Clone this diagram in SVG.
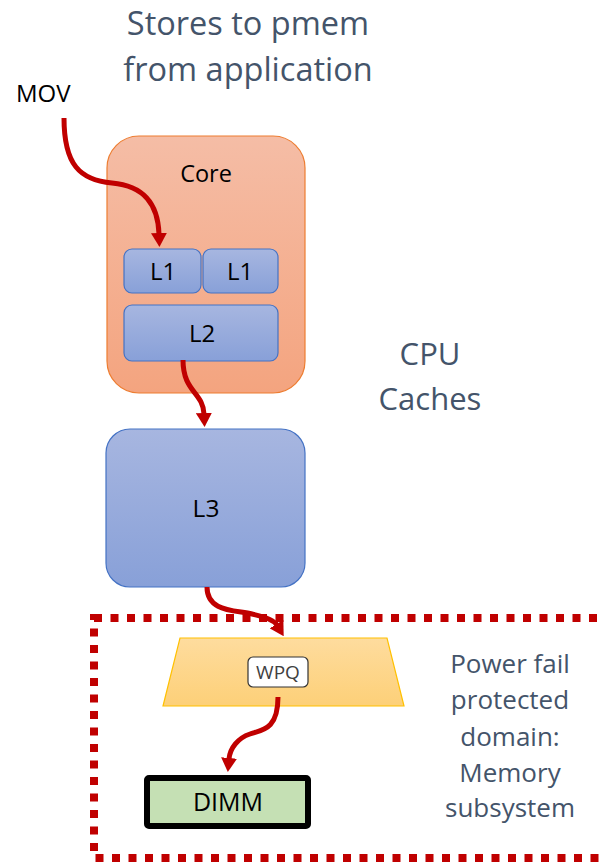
<svg xmlns="http://www.w3.org/2000/svg" width="599" height="863" viewBox="0 0 599 863">
<style>
text{font-family:"Open Sans","Liberation Sans",sans-serif;}
.lbl{fill:#44546a;text-anchor:middle;}
.box{fill:#000;text-anchor:middle;}
.cache{fill:url(#gBlue);stroke:#4472c4;stroke-width:1.2;}
.arrow{fill:none;stroke:#c00000;stroke-width:5;marker-end:url(#ah);}
</style>
<defs>
<linearGradient id="gCore" x1="0" y1="0" x2="0" y2="1"><stop offset="0" stop-color="#f5bda6"/><stop offset="1" stop-color="#f4a47f"/></linearGradient>
<linearGradient id="gBlue" x1="0" y1="0" x2="0" y2="1"><stop offset="0" stop-color="#a7b6e0"/><stop offset="1" stop-color="#88a0d8"/></linearGradient>
<linearGradient id="gWpq" x1="0" y1="0" x2="0" y2="1"><stop offset="0" stop-color="#fedc9e"/><stop offset="1" stop-color="#fdd078"/></linearGradient>
<marker id="ah" viewBox="0 0 14 16" refX="1" refY="8" markerWidth="14" markerHeight="16" markerUnits="userSpaceOnUse" orient="auto"><path d="M0,0 L14,8 L0,16 z" fill="#c00000"/></marker>
</defs>
<g id="title"><text class="lbl" x="248" y="35" font-size="32.5">Stores to pmem</text><text class="lbl" x="248" y="81" font-size="32.5">from application</text></g>
<g id="mov"><text x="16" y="102" font-size="24" fill="#000">MOV</text></g>
<g id="core"><rect x="107" y="136" width="198" height="257" rx="32" fill="url(#gCore)" stroke="#ed7d31" stroke-width="1.2"/><text class="box" x="206" y="182" font-size="23.5">Core</text></g>
<g id="l1a"><rect class="cache" x="124" y="249" width="77" height="44" rx="8"/><text class="box" x="163" y="280" font-size="24">L1</text></g>
<g id="l1b"><rect class="cache" x="203" y="249" width="75" height="44" rx="8"/><text class="box" x="240" y="280" font-size="24">L1</text></g>
<g id="l2"><rect class="cache" x="124" y="305" width="154" height="56" rx="8"/><text class="box" x="202" y="342" font-size="24">L2</text></g>
<g id="cpucaches"><text class="lbl" x="430" y="365" font-size="31">CPU</text><text class="lbl" x="430" y="410" font-size="31">Caches</text></g>
<g id="l3"><rect class="cache" x="106" y="429" width="199" height="158" rx="24"/><text class="box" x="206" y="517" font-size="24.5">L3</text></g>
<g id="domain"><rect x="94" y="618" width="520" height="240" fill="none" stroke="#c00000" stroke-width="8" stroke-dasharray="8 8.5"/>
<text class="lbl" font-size="26"><tspan x="510" y="673">Power fail</tspan><tspan x="510" y="709">protected</tspan><tspan x="510" y="746">domain:</tspan><tspan x="510" y="782">Memory</tspan><tspan x="510" y="817">subsystem</tspan></text></g>
<g id="wpq"><polygon points="180,638 387,638 404,706 163,706" fill="url(#gWpq)" stroke="#ffc000" stroke-width="1.2"/><rect x="248" y="657" width="60" height="30" rx="5" fill="#fff" stroke="#333" stroke-width="1.2"/><text x="278" y="679" font-size="19" fill="#404040" text-anchor="middle">WPQ</text></g>
<g id="dimm"><rect x="147" y="778" width="161" height="48" rx="2" fill="#c5e0b4" stroke="#000" stroke-width="6"/><text class="box" x="228" y="811" font-size="25">DIMM</text></g>
<g id="connectors">
<path class="arrow" d="M64,118 C64,165 80,180 112,183 C145,186 158,205 159,234"/>
<path class="arrow" d="M183,360 C183,392 203,392 204,414"/>
<path class="arrow" d="M207,587 C207,612 235,610 252,614 C266,617 274,620 277,625"/>
<path class="arrow" d="M278,697 C278,730 262,730 250,734 C238,738 230,748 229,759"/>
</g>
</svg>
